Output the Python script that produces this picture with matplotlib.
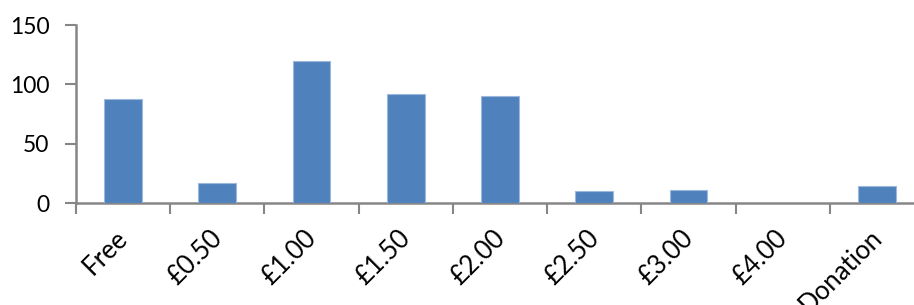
import matplotlib
matplotlib.use("Agg")
import matplotlib.pyplot as plt
from matplotlib.transforms import ScaledTranslation

categories = ["Free", "£0.50", "£1.00", "£1.50", "£2.00", "£2.50", "£3.00", "£4.00", "Donation"]
values = [88, 17, 120, 92, 90, 10, 11, 0, 14]
yticks = [0, 50, 100, 150]

W, H = 914, 305
fig = plt.figure(figsize=(W / 100, H / 100), dpi=100)
plt.rcParams['font.family'] = ['Lato', 'DejaVu Sans']

left, right, top, bottom = 76, 924, 25, 203
ax = fig.add_axes([left / W, (H - bottom) / H, (right - left) / W, (bottom - top) / H])

x = list(range(len(categories)))
ax.bar(x, values, width=0.4, color='#4F81BD', edgecolor='#9DB8DD', linewidth=0.8, zorder=3)

ax.set_xlim(-0.5, len(categories) - 0.5)
ax.set_ylim(0, 150)
ax.set_yticks(yticks)
ax.set_yticklabels([str(v) for v in yticks], fontsize=16.5)

ax.set_xticks([i - 0.5 for i in range(len(categories) + 1)])
ax.set_xticklabels([])
ax.tick_params(axis='x', which='major', length=8, width=1.5, color='#868686', direction='out')
ax.tick_params(axis='y', which='major', length=8, width=1.5, color='#868686', direction='out', pad=11)

for s in ['top', 'right']:
    ax.spines[s].set_visible(False)
for s in ['left', 'bottom']:
    ax.spines[s].set_color('#868686')
    ax.spines[s].set_linewidth(1.8)

offset = ScaledTranslation(1 / 100, -31 / 100, fig.dpi_scale_trans)
for i, lab in enumerate(categories):
    ax.text(i, 0, lab, transform=ax.get_xaxis_transform() + offset,
            rotation=45, ha='right', va='center', rotation_mode='anchor', fontsize=18.5)

fig.savefig("out.png", dpi=100)
